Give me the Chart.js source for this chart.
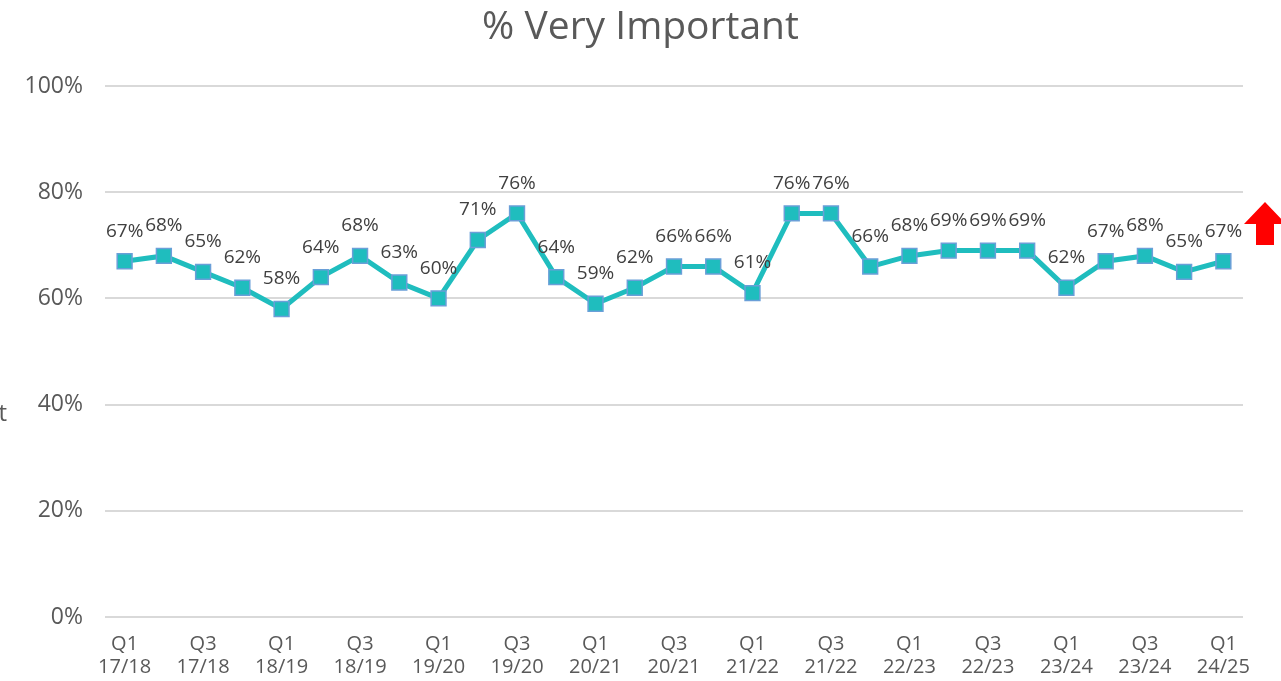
<!DOCTYPE html>
<html>
<head>
<meta charset="utf-8">
<script src="https://cdn.jsdelivr.net/npm/chart.js@4"></script>
<style>
  html, body { margin: 0; padding: 0; background: #fff; overflow: hidden; }
</style>
</head>
<body>
<canvas id="grafico" width="1281" height="681"></canvas>
<script>
// Dados do gráfico
const trimestres = ['Q1','Q2','Q3','Q4','Q1','Q2','Q3','Q4','Q1','Q2','Q3','Q4','Q1','Q2','Q3','Q4',
                    'Q1','Q2','Q3','Q4','Q1','Q2','Q3','Q4','Q1','Q2','Q3','Q4','Q1'];
const anos = ['17/18','17/18','17/18','17/18','18/19','18/19','18/19','18/19','19/20','19/20','19/20','19/20',
              '20/21','20/21','20/21','20/21','21/22','21/22','21/22','21/22','22/23','22/23','22/23','22/23',
              '23/24','23/24','23/24','23/24','24/25'];
const muitoImportante = [67, 68, 65, 62, 58, 64, 68, 63, 60, 71, 76, 64, 59, 62, 66, 66, 61, 76, 76, 66,
                         68, 69, 69, 69, 62, 67, 68, 65, 67];
const ticksY = [0, 20, 40, 60, 80, 100];
const titulo = '% Very Important';

const corTexto = '#595959';
const fonte = "'Open Sans', 'Liberation Sans', sans-serif";

// Plugin simples: título, rótulos de dados, seta vermelha e texto cortado
const extras = {
    id: 'extras',
    afterDatasetsDraw(chart) {
        const ctx = chart.ctx;
        const meta = chart.getDatasetMeta(0);
        ctx.save();
        ctx.font = '19px ' + fonte;
        ctx.fillStyle = '#404040';
        ctx.textAlign = 'center';
        ctx.textBaseline = 'middle';
        meta.data.forEach((pt, i) => {
            ctx.fillText(muitoImportante[i] + '%', pt.x, pt.y - 30);
        });

        // título centrado na página
        ctx.font = '39px ' + fonte;
        ctx.fillStyle = corTexto;
        ctx.fillText(titulo, chart.width / 2, 28);

        // seta vermelha à direita
        ctx.fillStyle = '#FF0000';
        ctx.beginPath();
        ctx.moveTo(1265, 202);
        ctx.lineTo(1286, 224);
        ctx.lineTo(1274, 224);
        ctx.lineTo(1274, 245);
        ctx.lineTo(1256, 245);
        ctx.lineTo(1256, 224);
        ctx.lineTo(1244, 224);
        ctx.closePath();
        ctx.fill();

        // título do eixo cortado na borda
        ctx.font = '24px ' + fonte;
        ctx.fillStyle = corTexto;
        ctx.textAlign = 'right';
        ctx.fillText('Important', 7, 414);
        ctx.restore();
    }
};

const ctx = document.getElementById('grafico').getContext('2d');
new Chart(ctx, {
    type: 'line',
    data: {
        labels: trimestres.map((q, i) => [q, anos[i]]),
        datasets: [{
            label: titulo,
            data: muitoImportante,
            borderColor: '#1FBDBE',
            borderWidth: 5,
            backgroundColor: '#1FBDBE',
            pointStyle: 'rect',
            pointRadius: 10.5,
            pointBackgroundColor: '#1FBDBE',
            pointBorderColor: '#6A9FD8',
            pointBorderWidth: 1.5,
            tension: 0
        }]
    },
    plugins: [extras],
    options: {
        responsive: false,
        animation: false,
        layout: { padding: { left: 0, right: 38, top: 86, bottom: 0 } },
        plugins: {
            legend: { display: false },
            tooltip: { enabled: false },
            title: { display: false }
        },
        scales: {
            x: {
                offset: true,
                afterFit(scale) { scale.height = 64; },
                grid: { display: false, drawTicks: false },
                border: { display: false },
                ticks: {
                    autoSkip: false,
                    maxRotation: 0,
                    padding: 16,
                    color: corTexto,
                    font: { size: 20, family: fonte, lineHeight: 1.15 },
                    callback: function(v, i) { return i % 2 === 0 ? this.getLabelForValue(v) : ''; }
                }
            },
            y: {
                min: 0,
                max: 100,
                afterFit(scale) { scale.width = 105; },
                afterBuildTicks(scale) { scale.ticks = ticksY.map(v => ({ value: v })); },
                grid: { color: '#D9D9D9', lineWidth: 2, drawTicks: false },
                border: { display: false },
                ticks: {
                    padding: 22,
                    color: corTexto,
                    font: { size: 23, family: fonte },
                    callback: v => v + '%'
                }
            }
        }
    }
});
</script>
</body>
</html>
